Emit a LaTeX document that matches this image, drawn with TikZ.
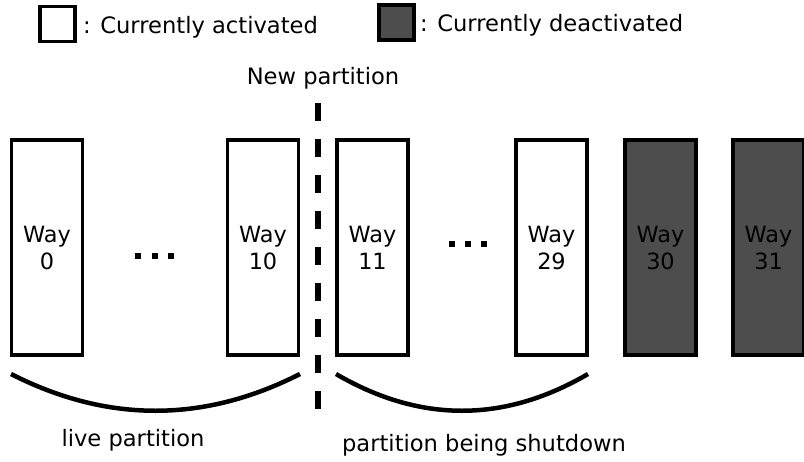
\documentclass[tikz,border=0pt]{standalone}
\usepackage{fontspec}
\setmainfont{DejaVu Sans}
\usetikzlibrary{calc}
\definecolor{offgray}{RGB}{77,77,77}
\begin{document}
\begin{tikzpicture}[x=1pt,y=-1pt,
  txt/.style={font=\fontsize{22.6}{27}\selectfont, inner sep=0pt},
  waybox/.style={draw=black, line width=3.5pt, minimum width=71pt, minimum height=215pt,
    inner sep=0pt, align=center, font=\fontsize{22.4}{27}\selectfont},
  onbox/.style={waybox, fill=white},
  offbox/.style={waybox, fill=offgray},
  legendbox/.style={draw=black, line width=3.5pt, minimum width=35pt, minimum height=35pt, inner sep=0pt},
  dotsq/.style={fill=black, minimum size=6pt, inner sep=0pt},
  brace/.style={line width=4.5pt, line cap=butt},
  divider/.style={line width=5.5pt, dash pattern=on 18pt off 18pt}
]
\useasboundingbox (0,0) rectangle (804,461);

% legend
\node[legendbox, fill=white] (lon) at (57.5,24) {};
\node[txt, anchor=base west] (lontxt) at (83,33) {: Currently activated};
\node[legendbox, fill=offgray] (loff) at (396.5,22.5) {};
\node[txt, anchor=base west] (lofftxt) at (420,31) {: Currently deactivated};

% new partition
\node[txt, anchor=base] (newp) at (323,84) {New partition};
\coordinate (divtop) at (318,103);
\coordinate (divbot) at (318,410);
\draw[divider] (divtop) -- (divbot);

% ways
\node[onbox] (w0) at (47,247.5) {Way\\0};
\node[onbox] (w10) at (263,247.5) {Way\\10};
\node[onbox] (w11) at (372.5,247.5) {Way\\11};
\node[onbox] (w29) at (551.5,247.5) {Way\\29};
\node[offbox] (w30) at (660.5,247.5) {Way\\30};
\node[offbox] (w31) at (768.5,247.5) {Way\\31};

% dots
\node[dotsq] (d1) at (137.5,256) {};
\node[dotsq] (d2) at (154.5,256) {};
\node[dotsq] (d3) at (170.5,256) {};
\node[dotsq] (d4) at (452,243.7) {};
\node[dotsq] (d5) at (468.2,243.7) {};
\node[dotsq] (d6) at (484.2,243.7) {};

% braces
\coordinate (la) at (11,374);
\coordinate (lb) at (300,374);
\draw[brace] (la) .. controls (107.3,423) and (203.7,423) .. (lb);
\coordinate (ra) at (336,374);
\coordinate (rb) at (588,374);
\draw[brace] (ra) .. controls (420,423) and (504,423) .. (rb);

\node[txt, anchor=base] (live) at (133,446) {live partition};
\node[txt, anchor=base] (shut) at (484,451) {partition being shutdown};
\end{tikzpicture}
\end{document}
